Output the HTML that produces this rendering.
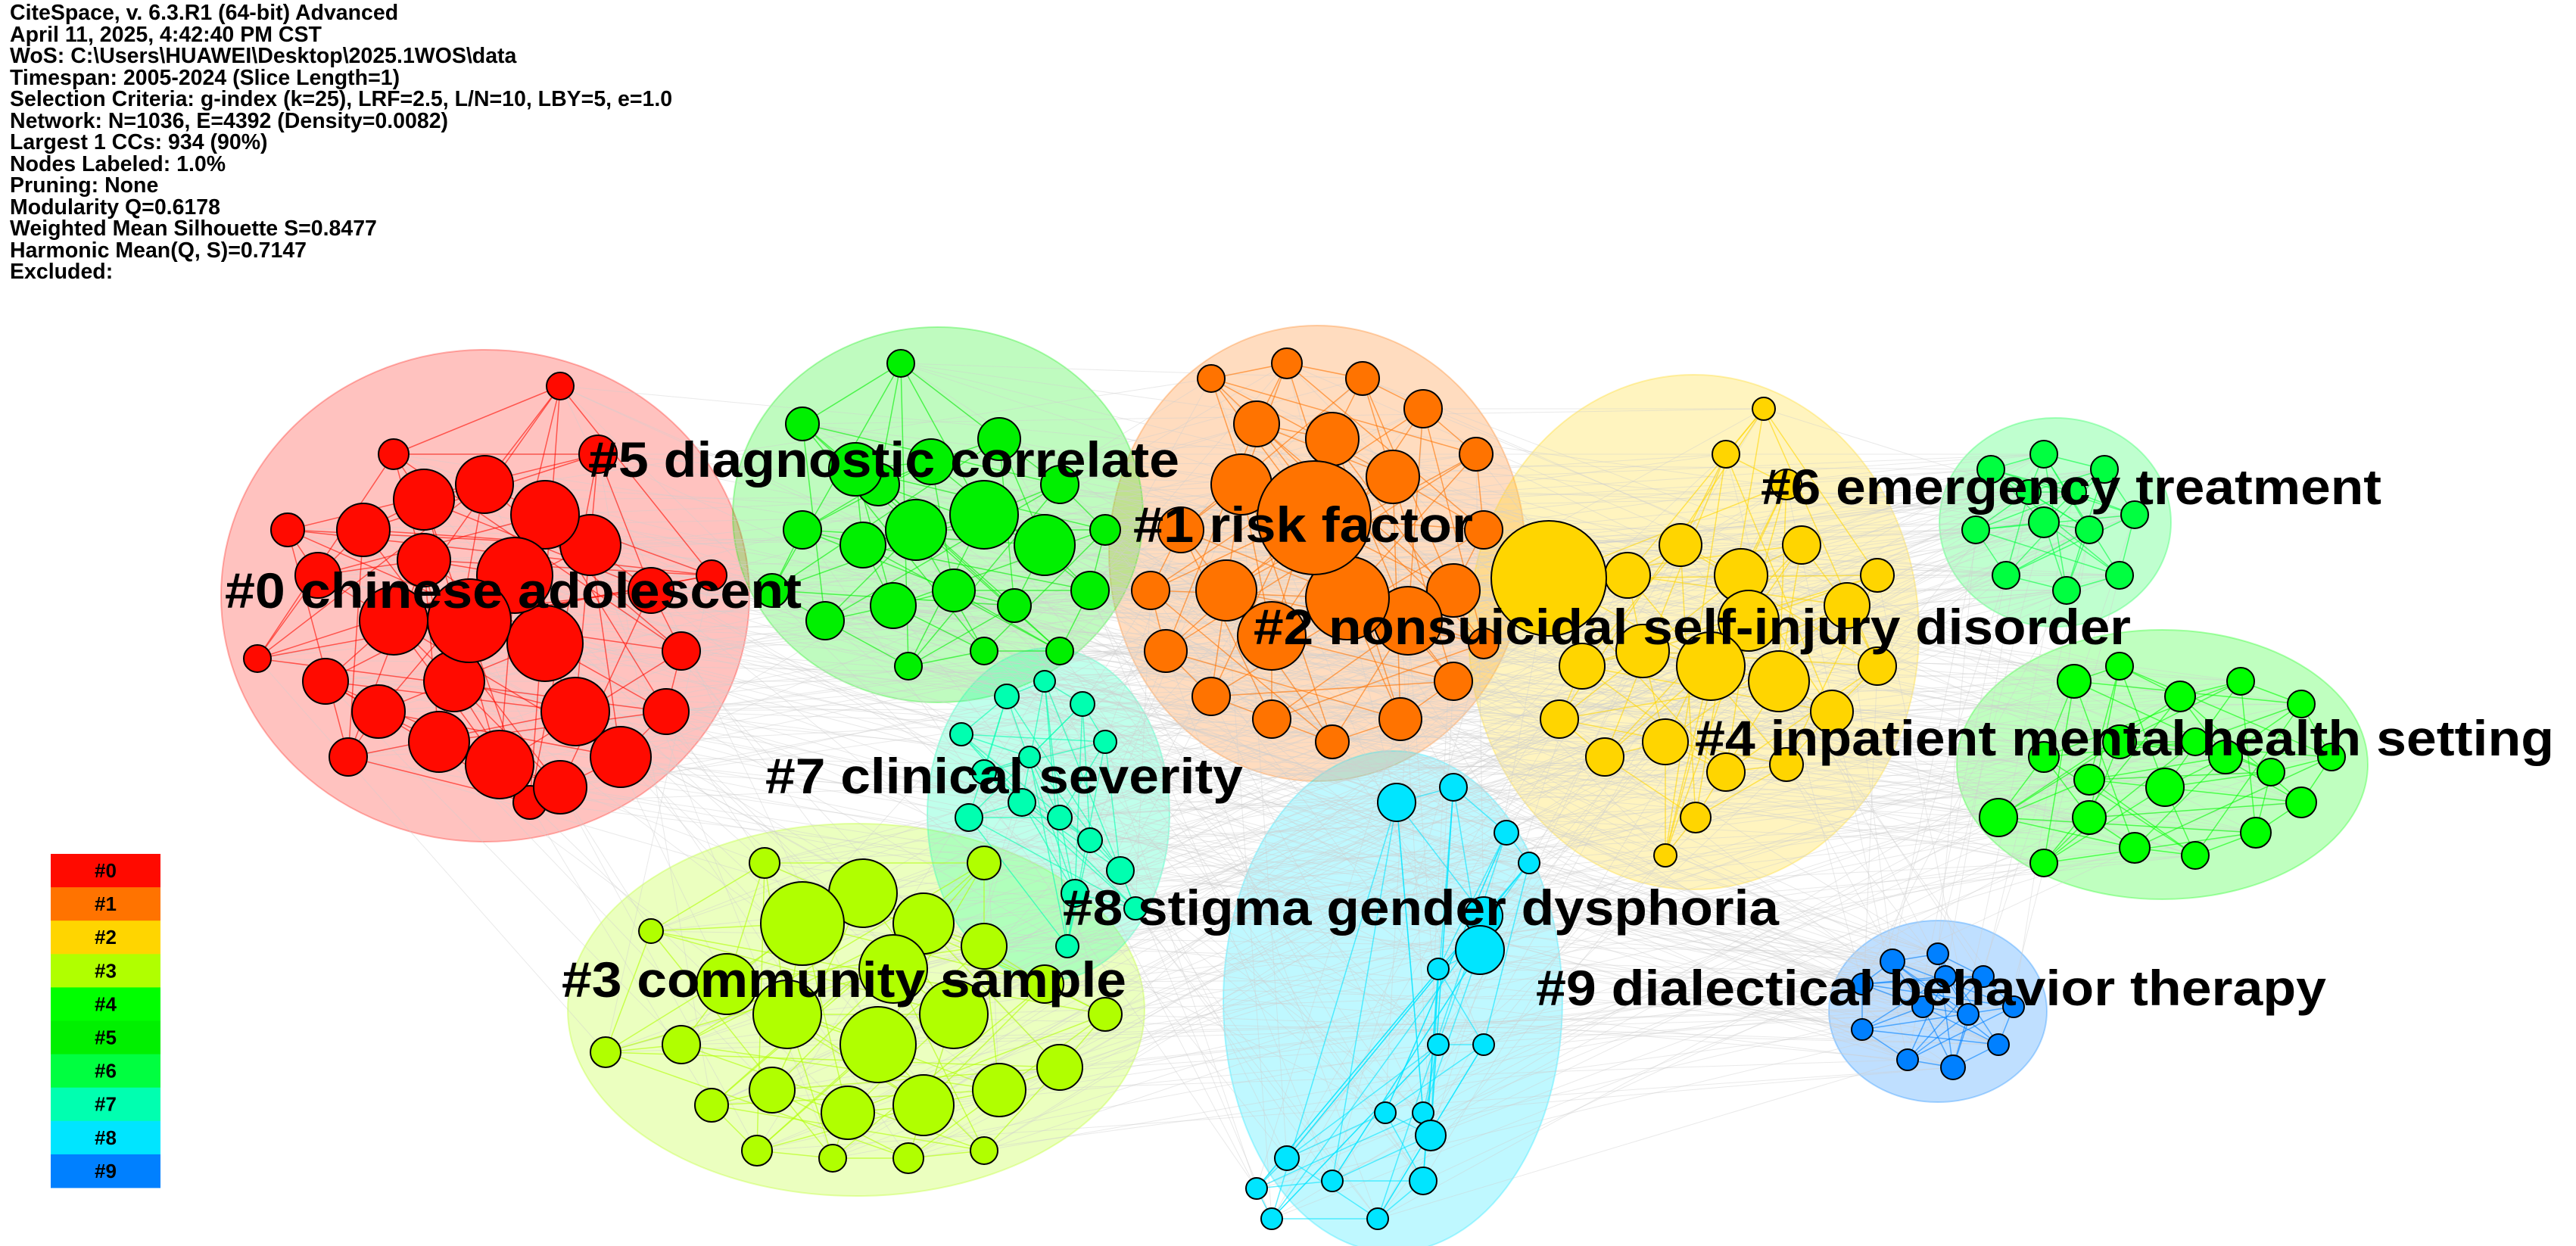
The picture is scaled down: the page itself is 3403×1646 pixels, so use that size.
<!DOCTYPE html>
<html><head><meta charset="utf-8">
<style>
html,body{margin:0;padding:0;background:#fff;}
#wrap{position:relative;width:3403px;height:1646px;overflow:hidden;background:#fff;}
#info{position:absolute;left:13px;top:3px;font-family:"Liberation Sans",sans-serif;font-weight:bold;font-size:28.5px;line-height:28.5px;color:#000;}
svg{position:absolute;left:0;top:0;}
</style></head>
<body>
<div id="wrap">
<svg id="net" width="3403" height="1646"></svg>
<div id="info">
CiteSpace, v. 6.3.R1 (64-bit) Advanced<br>
April 11, 2025, 4:42:40 PM CST<br>
WoS: C:\Users\HUAWEI\Desktop\2025.1WOS\data<br>
Timespan: 2005-2024 (Slice Length=1)<br>
Selection Criteria: g-index (k=25), LRF=2.5, L/N=10, LBY=5, e=1.0<br>
Network: N=1036, E=4392 (Density=0.0082)<br>
Largest 1 CCs: 934 (90%)<br>
Nodes Labeled: 1.0%<br>
Pruning: None<br>
Modularity Q=0.6178<br>
Weighted Mean Silhouette S=0.8477<br>
Harmonic Mean(Q, S)=0.7147<br>
Excluded:
</div>
</div>
<script>
const clusterIds = ["#0","#1","#2","#3","#4","#5","#6","#7","#8","#9"];
const clusterColors = ["#ff0a00","#ff7300","#ffd500","#b0ff00","#00ff00","#00f000","#00ff40","#00ffb0","#00e5ff","#0080ff"];
const clusterLabels = ["#0 chinese adolescent","#1 risk factor","#2 nonsuicidal self-injury disorder","#3 community sample","#4 inpatient mental health setting","#5 diagnostic correlate","#6 emergency treatment","#7 clinical severity","#8 stigma gender dysphoria","#9 dialectical behavior therapy"];
const labelX = [297,1497,1656,742,2239,777,2326,1011,1404,2029];
const labelY = [803,716,851,1317,998,630,666,1048,1222,1328];
const labelW = [762,449,1159,746,1135,781,820,631,946,1044];
const nodes0 = [[340,870,18],[420,760,30],[480,700,35],[560,660,40],[640,640,38],[720,680,45],[780,720,40],[860,780,30],[900,860,25],[880,940,30],[820,1000,40],[740,1040,35],[660,1010,45],[580,980,40],[500,940,35],[430,900,30],[520,820,45],[620,820,55],[720,850,50],[760,940,45],[600,900,40],[680,760,50],[560,740,35],[460,1000,25],[700,1060,22],[740,510,18],[940,760,20],[380,700,22],[790,600,25],[520,600,20]];
const nodes1 = [[1600,500,18],[1700,480,20],[1800,500,22],[1880,540,25],[1950,600,22],[1960,700,25],[1920,780,35],[1860,820,45],[1780,790,55],[1736,684,75],[1640,640,40],[1560,700,30],[1520,780,25],[1540,860,28],[1600,920,25],[1680,950,25],[1760,980,22],[1850,950,28],[1920,900,25],[1680,840,45],[1620,780,40],[1840,630,35],[1660,560,30],[1760,580,35],[1960,850,20]];
const nodes2 = [[2330,540,15],[2280,600,18],[2360,640,20],[2046,764,76],[2150,760,30],[2220,720,28],[2300,760,35],[2380,720,25],[2440,800,30],[2480,880,25],[2420,940,28],[2350,900,40],[2260,880,45],[2170,860,35],[2090,880,30],[2060,950,25],[2120,1000,25],[2200,980,30],[2280,1020,25],[2360,1010,22],[2240,1080,20],[2200,1130,15],[2310,820,40],[2480,760,22]];
const nodes3 = [[860,1230,16],[800,1390,20],[900,1380,25],[960,1300,40],[1060,1220,55],[1140,1180,45],[1220,1220,40],[1300,1250,30],[1380,1300,25],[1460,1340,22],[1400,1410,30],[1320,1440,35],[1220,1460,40],[1120,1470,35],[1020,1440,30],[940,1460,22],[1000,1520,20],[1100,1530,18],[1200,1530,20],[1300,1520,18],[1160,1380,50],[1040,1340,45],[1260,1340,45],[1180,1280,45],[1300,1140,22],[1010,1140,20]];
const nodes4 = [[2640,1080,25],[2700,1000,20],[2740,900,22],[2800,880,18],[2880,920,20],[2960,900,18],[3040,930,18],[3080,1000,18],[3040,1060,20],[2980,1100,20],[2900,1130,18],[2820,1120,20],[2760,1080,22],[2700,1140,18],[2860,1040,25],[2940,1000,22],[2800,980,22],[2900,980,18],[3000,1020,18],[2760,1030,20]];
const nodes5 = [[1190,480,18],[1060,560,22],[1130,620,35],[1230,610,30],[1320,580,28],[1400,640,25],[1460,700,20],[1440,780,25],[1380,720,40],[1300,680,45],[1210,700,40],[1140,720,30],[1060,700,25],[1020,780,22],[1090,820,25],[1180,800,30],[1260,780,28],[1340,800,22],[1200,880,18],[1300,860,18],[1400,860,18],[1160,640,28]];
const nodes6 = [[2630,620,18],[2700,600,18],[2780,620,18],[2820,680,18],[2800,760,18],[2730,780,18],[2650,760,18],[2610,700,18],[2700,690,20],[2760,700,18],[2680,650,16],[2740,650,16]];
const nodes7 = [[1270,970,15],[1330,920,16],[1380,900,14],[1430,930,16],[1460,980,15],[1300,1020,16],[1350,1060,18],[1280,1080,18],[1400,1080,16],[1440,1110,16],[1480,1150,18],[1500,1200,15],[1420,1180,18],[1410,1250,15],[1360,1000,14]];
const nodes8 = [[1845,1060,25],[1920,1040,18],[1990,1100,16],[2020,1140,14],[1960,1210,25],[1955,1255,32],[1900,1280,14],[1960,1380,14],[1900,1380,14],[1880,1470,14],[1890,1500,20],[1830,1470,14],[1700,1530,16],[1660,1570,14],[1760,1560,14],[1880,1560,18],[1820,1610,14],[1680,1610,14]];
const nodes9 = [[2460,1300,14],[2500,1270,16],[2560,1260,14],[2620,1290,14],[2660,1330,14],[2640,1380,14],[2580,1410,16],[2520,1400,14],[2460,1360,14],[2540,1330,14],[2600,1340,14],[2570,1290,14]];
const allNodes = [nodes0,nodes1,nodes2,nodes3,nodes4,nodes5,nodes6,nodes7,nodes8,nodes9];

const NS = "http://www.w3.org/2000/svg";
const svg = document.getElementById('net');
function mk(tag, attrs, parent){
  const e = document.createElementNS(NS, tag);
  for (const k in attrs) e.setAttribute(k, attrs[k]);
  (parent||svg).appendChild(e);
  return e;
}
const gHull = mk('g',{});


const gGray = mk('g',{stroke:'#cfcfcf','stroke-width':1,'stroke-opacity':0.45});


const gEdge = mk('g',{});


const gNode = mk('g',{stroke:'#000','stroke-width':2});


const gLab = mk('g',{});



allNodes.forEach((ns, c) => {
  let x0=1e9,y0=1e9,x1=-1e9,y1=-1e9;
  ns.forEach(n => {x0=Math.min(x0,n[0]-n[2]);x1=Math.max(x1,n[0]+n[2]);y0=Math.min(y0,n[1]-n[2]);y1=Math.max(y1,n[1]+n[2]);});
  const pad = 30;
  const e = mk('ellipse',{cx:(x0+x1)/2,cy:(y0+y1)/2,rx:(x1-x0)/2+pad,ry:(y1-y0)/2+pad,fill:clusterColors[c],'fill-opacity':0.25,stroke:clusterColors[c],'stroke-opacity':0.3,'stroke-width':2}, gHull);
  
  
});
allNodes.forEach((ns, c) => {
  ns.forEach((n, i) => {
    for (let k = 1; k <= 3; k++) {
      const other = allNodes[(c + k*3) % allNodes.length];
      const m = other[(i*7 + k) % other.length];
      mk('line',{x1:n[0],y1:n[1],x2:m[0],y2:m[1]}, gGray);
    }
  });
});
allNodes.forEach((ns, c) => {
  ns.forEach((n, i) => {
    [1,4,9].forEach(s => {
      const m = ns[(i+s) % ns.length];
      mk('line',{x1:n[0],y1:n[1],x2:m[0],y2:m[1],stroke:clusterColors[c],'stroke-width':1.5,'stroke-opacity':0.6}, gEdge);
    });
  });
});
allNodes.forEach((ns, c) => {
  ns.slice().sort((a,b)=>a[2]-b[2]).forEach(n => {
    const e = mk('circle',{cx:n[0],cy:n[1],r:n[2],fill:clusterColors[c]}, gNode);
    
    
  });
});
clusterLabels.forEach((t, c) => {
  const e = mk('text',{x:labelX[c],y:labelY[c],'font-family':'Liberation Sans, sans-serif','font-weight':'bold','font-size':66,fill:'#000',textLength:labelW[c],lengthAdjust:'spacingAndGlyphs'}, gLab);
  e.textContent = t;
  
  
});
const gLeg = mk('g',{});


clusterIds.forEach((id, c) => {
  const y = 1128 + c*44.1;
  const r = mk('rect',{x:67,y:y,width:145,height:44.5,fill:clusterColors[c]}, gLeg);
  
  
  const t = mk('text',{x:139.5,y:y+31,'text-anchor':'middle','font-family':'Liberation Sans, sans-serif','font-weight':'bold','font-size':26,fill:'#000'}, gLeg);
  t.textContent = id;
  
  
});
</script>
</body></html>
